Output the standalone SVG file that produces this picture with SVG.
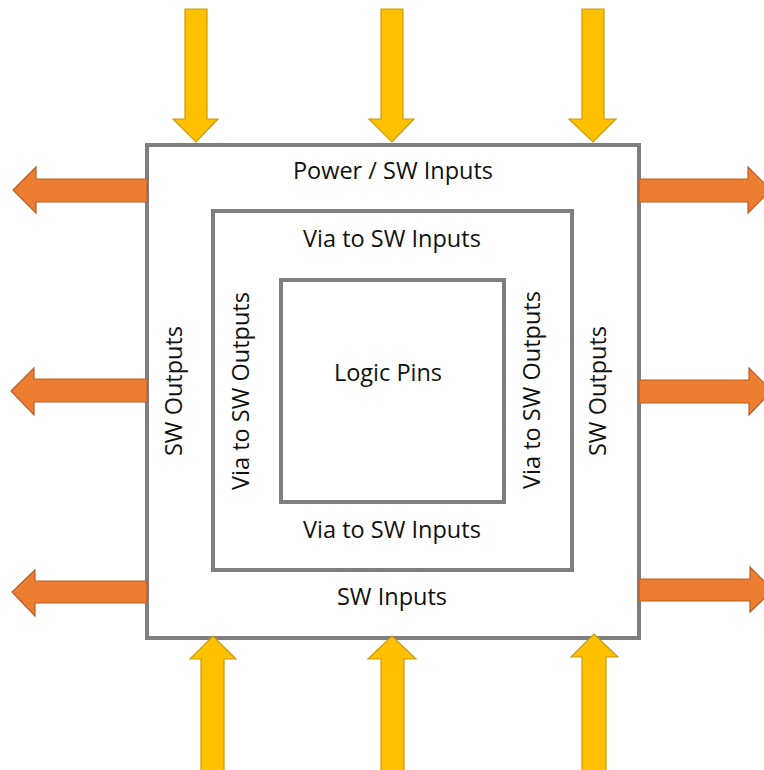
<svg xmlns="http://www.w3.org/2000/svg" width="764" height="770" viewBox="0 0 764 770">
<style>
.box{fill:none;stroke:#7f7f7f;stroke-width:4}
.lbl{font-family:"Open Sans","Noto Sans",sans-serif;font-size:23.5px;fill:#111;text-anchor:middle}
.in{fill:#ffc000;stroke:#c99a10;stroke-width:1.2}
.out{fill:#ed7d31;stroke:#b85f22;stroke-width:1.2}
</style>
<rect width="764" height="770" fill="#fff"/>
<g id="outer">
<rect class="box" x="147" y="145" width="492" height="493"/>
<text class="lbl" x="393" y="179">Power / SW Inputs</text>
<text class="lbl" x="392" y="605">SW Inputs</text>
<text class="lbl" transform="translate(182,391) rotate(-90)">SW Outputs</text>
<text class="lbl" transform="translate(606,391) rotate(-90)">SW Outputs</text>
</g>
<g id="middle">
<rect class="box" x="213" y="211" width="359" height="359"/>
<text class="lbl" x="392" y="247">Via to SW Inputs</text>
<text class="lbl" x="392" y="538">Via to SW Inputs</text>
<text class="lbl" transform="translate(249,391) rotate(-90)">Via to SW Outputs</text>
<text class="lbl" transform="translate(540,390) rotate(-90)">Via to SW Outputs</text>
</g>
<g id="logic">
<rect class="box" x="281" y="280" width="223" height="222"/>
<text class="lbl" x="388" y="381">Logic Pins</text>
</g>
<g id="connectors">
<polygon class="in" points="185,9 207,9 207,119 218,119 196,142 173,119 185,119"/>
<polygon class="in" points="381,9 403,9 403,119 414,119 392,142 369,119 381,119"/>
<polygon class="in" points="582,9 604,9 604,119 616,119 593,142 569,119 582,119"/>
<polygon class="in" points="201,772 224,772 224,659 236,659 213,636 190,659 201,659"/>
<polygon class="in" points="381,772 404,772 404,659 416,659 392,636 368,659 381,659"/>
<polygon class="in" points="582,772 606,772 606,657 618,657 594,634 571,657 582,657"/>
<polygon class="out" points="147,179 147,202 36,202 36,213 13,190 36,167 36,179"/>
<polygon class="out" points="147,379 147,402 34,402 34,415 11,391 34,368 34,379"/>
<polygon class="out" points="147,581 147,603 35,603 35,616 12,592 35,570 35,581"/>
<polygon class="out" points="639,179 639,202 748,202 748,213 771,190 748,167 748,179"/>
<polygon class="out" points="639,380 639,403 749,403 749,415 772,391 749,368 749,380"/>
<polygon class="out" points="639,579 639,601 750,601 750,612 773,590 750,567 750,579"/>
</g>
</svg>
